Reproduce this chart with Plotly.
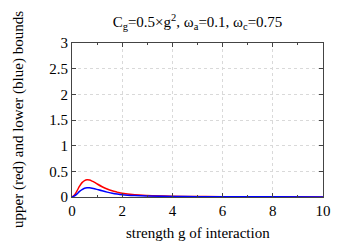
import plotly.graph_objects as go

g = [0, 0.1, 0.2, 0.3, 0.4, 0.5, 0.6, 0.7, 0.8, 0.9, 1.0, 1.2, 1.4, 1.6, 1.8, 2.0, 2.5, 3.0, 4.0, 5.0, 6.0, 8.0, 10.0]
upper = [0, 0.04, 0.12, 0.21, 0.28, 0.32, 0.335, 0.33, 0.31, 0.285, 0.255, 0.2, 0.155, 0.12, 0.095, 0.072, 0.042, 0.028, 0.015, 0.009, 0.006, 0.003, 0.002]
lower = [0, 0.02, 0.06, 0.11, 0.145, 0.17, 0.178, 0.178, 0.172, 0.162, 0.148, 0.12, 0.095, 0.075, 0.058, 0.045, 0.028, 0.019, 0.011, 0.007, 0.005, 0.003, 0.002]

fig = go.Figure()
fig.add_trace(go.Scatter(x=g, y=upper, mode="lines", line=dict(color="red", width=1.5, shape="spline")))
fig.add_trace(go.Scatter(x=g, y=lower, mode="lines", line=dict(color="blue", width=1.5, shape="spline")))

FAM = "Liberation Serif, DejaVu Serif, Times, serif"
font = dict(family=FAM, size=15, color="black")
axis_common = dict(showline=True, linecolor="#444", linewidth=1, mirror="allticks",
                   ticks="inside", ticklen=4, tickcolor="#444",
                   showgrid=True, gridcolor="#d9d9d9", griddash="dot", gridwidth=1,
                   zeroline=False, tickfont=font, automargin=False)
fig.update_layout(
    width=349, height=244,
    margin=dict(l=72, r=26, t=43, b=47),
    paper_bgcolor="white", plot_bgcolor="white",
    showlegend=False,
    font=font,
    title=dict(text="C<sub>g</sub>=0.5×g<sup>2</sup>, ω<sub>a</sub>=0.1, ω<sub>c</sub>=0.75",
               xref="paper", x=0.5, xanchor="center", y=0.91, yanchor="middle", font=font),
    xaxis=dict(range=[0, 10], tick0=0, dtick=2,
               minor=dict(dtick=1, ticks="inside", ticklen=2, tickcolor="#444", showgrid=False),
               **axis_common),
    yaxis=dict(range=[0, 3], tick0=0, dtick=0.5, **axis_common),
)
fig.add_annotation(text="strength g of interaction", xref="paper", yref="paper",
                   x=0.5, y=0, xanchor="center", yanchor="middle", yshift=-36,
                   showarrow=False, font=font)
fig.add_annotation(text="upper (red) and lower (blue) bounds", xref="paper", yref="paper",
                   x=0, y=0.5, xanchor="center", yanchor="middle", xshift=-54, textangle=-90,
                   showarrow=False, font=font)
fig.write_html("out.html", config={"displayModeBar": False},
               post_script="document.body.style.margin='0';document.body.style.overflow='hidden';")
